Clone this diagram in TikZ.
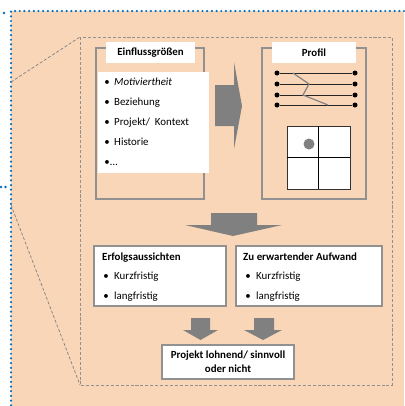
\documentclass[tikz,border=0pt]{standalone}
\usepackage{fontspec}
\setmainfont{Carlito}
\usetikzlibrary{positioning}

\definecolor{peach}{RGB}{249,214,184}
\definecolor{dotblue}{RGB}{0,112,192}
\definecolor{framegray}{RGB}{145,145,145}
\definecolor{arrowgray}{RGB}{128,128,128}

\begin{document}
\begin{tikzpicture}[x=0.3mm, y=-0.3mm,
  font=\fontsize{9.3}{11.5}\selectfont,
  bluedots/.style={draw=dotblue, line width=2.1pt, line cap=round, dash pattern=on 0pt off 4pt},
  innerdash/.style={draw=framegray, line width=0.8pt, dash pattern=on 2.6pt off 1.6pt},
  zoomline/.style={draw=arrowgray, line width=0.6pt, dash pattern=on 2.6pt off 1.6pt},
  frame/.style={draw=framegray, line width=0.9pt},
  listbox/.style={draw=framegray, fill=white, line width=0.9pt},
  blockarrow/.style={fill=arrowgray},
  headline/.style={font=\fontsize{9.3}{11.5}\selectfont\bfseries, inner sep=0pt},
  bul/.style={inner sep=0pt, anchor=base},
  entry/.style={inner sep=0pt, anchor=base west},
  pt/.style={circle, fill=black, inner sep=0pt, minimum size=1.5mm},
  profline/.style={draw=black!85, line width=0.8pt}]

\useasboundingbox (0,0) rectangle (404,406);

% background
      \fill[white] (0,0) rectangle (404,406);
      \fill[peach] (11,11) rectangle (404,406);
      \draw[bluedots] (404,11) -- (11,11) -- (11,406);
      \fill[dotblue] (4,13) circle (1.4);
      \fill[dotblue] (1,187) circle (1.4);
      \fill[dotblue] (5.5,187) circle (1.4);

% zoomed part
      \coordinate (zoomtop) at (11,82);
      \coordinate (zoombot) at (11,205);
      \coordinate (innerNW) at (80,37);
      \coordinate (innerSW) at (80,385);
      \draw[innerdash] (innerNW) rectangle (392,385);
      \draw[zoomline] (zoomtop) -- (innerNW);
      \draw[zoomline] (zoombot) -- (innerSW);

% Einflussgroessen
      \draw[frame] (96,48) rectangle (204,199);
      \fill[white] (106,42) rectangle (195,63);
      \fill[white] (98,72) rectangle (209,173);
      \node[headline] (infl) at (150.5,52.5) {Einflussgrößen};
      \node[bul] (b1) at (107,85) {\textbullet};
      \node[entry] (motiv) at (114,85) {\textit{Motiviertheit}};
      \node[bul] (b2) at (107,105) {\textbullet};
      \node[entry] (bezieh) at (114,105) {Beziehung};
      \node[bul] (b3) at (107,125) {\textbullet};
      \node[entry] (projkont) at (114,125) {Projekt/\ \ Kontext};
      \node[bul] (b4) at (107,145) {\textbullet};
      \node[entry] (hist) at (114,145) {Historie};
      \node[bul] (b5) at (107,165) {\textbullet};
      \node[entry] (etc) at (110,165) {…};

% arrow to Profil
      \fill[blockarrow] (215,85) -- (234,85) -- (234,62) -- (242,106)
            -- (234,149) -- (234,126) -- (215,126) -- cycle;

% Profil
      \draw[frame] (262,48) rectangle (366,199);
      \fill[white] (272,42) rectangle (356,63);
      \node[headline] (profil) at (314,52.5) {Profil};

      \node[pt] (l1a) at (277,73) {};
      \node[pt] (l1b) at (355,73) {};
      \node[pt] (l2a) at (277,84) {};
      \node[pt] (l2b) at (355,84) {};
      \node[pt] (l3a) at (277,95) {};
      \node[pt] (l3b) at (355,95) {};
      \node[pt] (l4a) at (277,105) {};
      \node[pt] (l4b) at (355,105) {};
      \draw[profline] (l1a) -- (l1b);
      \draw[profline] (l2a) -- (l2b);
      \draw[profline] (l3a) -- (l3b);
      \draw[profline] (l4a) -- (l4b);
      \draw[draw=arrowgray, line width=1pt] (293,73) -- (309,84) -- (303,95) -- (328,105);

      \draw[fill=white, draw=black!80, line width=0.8pt] (287,126) rectangle (350,189);
      \draw[black, line width=0.8pt] (318.5,126) -- (318.5,189);
      \draw[black, line width=0.8pt] (287,157.5) -- (350,157.5);
      \fill[arrowgray] (309,144) circle (5.5);

% big arrow down
      \fill[blockarrow] (211,213) -- (257,213) -- (257,225) -- (282,225)
            -- (233,236) -- (185,225) -- (211,225) -- cycle;

% Erfolgsaussichten
      \draw[listbox] (94,246) rectangle (226,306);
      \node[headline, anchor=base west] (erfolg) at (102,260) {Erfolgsaussichten};
      \node[bul] (e1) at (106,279) {\textbullet};
      \node[entry] (ekurz) at (114,279) {Kurzfristig};
      \node[bul] (e2) at (106,299) {\textbullet};
      \node[entry] (elang) at (114,299) {langfristig};

% Zu erwartender Aufwand
      \draw[listbox] (236,246) rectangle (382,306);
      \node[headline, anchor=base west] (aufwand) at (243,260) {Zu erwartender Aufwand};
      \node[bul] (a1) at (248,279) {\textbullet};
      \node[entry] (akurz) at (256,279) {Kurzfristig};
      \node[bul] (a2) at (248,299) {\textbullet};
      \node[entry] (alang) at (256,299) {langfristig};

% small arrows
      \fill[blockarrow] (191,318) -- (210,318) -- (210,330) -- (218,330)
            -- (200.5,340) -- (183,330) -- (191,330) -- cycle;
      \fill[blockarrow] (254,318) -- (274,318) -- (274,330) -- (282,330)
            -- (263,340) -- (244,330) -- (254,330) -- cycle;

% result
      \draw[listbox] (162,345) rectangle (294,379);
      \node[headline, align=center] (result) at (228,361.5) {Projekt lohnend/ sinnvoll\\oder nicht};

\end{tikzpicture}
\end{document}
